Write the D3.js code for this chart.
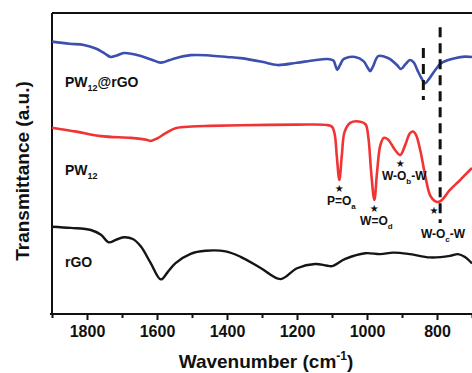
<!DOCTYPE html>
<html>
<head>
<meta charset="utf-8">
<script src="https://cdnjs.cloudflare.com/ajax/libs/d3/7.8.5/d3.min.js"></script>
<style>
  body { margin: 0; background: #fff; }
  text { font-family: "Liberation Sans", Arial, sans-serif; font-weight: bold; fill: #111; }
</style>
</head>
<body>
<script>
var outerWidth = 472, outerHeight = 373;

var margin = { top: 13, right: 0, bottom: 59, left: 52 };

var width = 420,                                  // plot goes a bit past the right edge
  height = outerHeight - margin.top - margin.bottom;

// spectra: [wavenumber (cm-1), transmittance (a.u.)]
var bluePW12rGO = [
  [1900, 90.5], [1850, 89.8], [1809, 89.4], [1775, 88.2], [1750, 86.6], [1732, 85.4],
  [1715, 85.9], [1695, 86.7], [1670, 86.4], [1646, 85.7], [1615, 84.5], [1589, 83.5],
  [1565, 84.3], [1547, 85.0], [1504, 86.0], [1450, 85.9], [1400, 85.4], [1361, 85.0],
  [1300, 83.8], [1256, 82.7], [1200, 83.5], [1150, 84.3], [1113, 84.7], [1096, 84.2],
  [1090, 82.5], [1085, 81.1], [1078, 82.5], [1068, 84.6], [1062, 85.0], [1034, 85.4],
  [1010, 84.0], [998, 81.8], [991, 80.7], [983, 82.2], [968, 85.7], [950, 85.5],
  [934, 84.7], [915, 82.8], [903, 81.4], [890, 83.0], [877, 84.4], [866, 83.5],
  [856, 81.0], [845, 78.5], [834, 76.7], [822, 78.2], [811, 80.1], [800, 81.8],
  [791, 83.1], [770, 84.3], [749, 85.0], [720, 85.5], [700, 85.4]
];

var redPW12 = [
  [1900, 61.9], [1830, 60.6], [1760, 59.1], [1675, 58.5], [1630, 57.9], [1618, 57.5],
  [1600, 58.3], [1575, 60.1], [1545, 61.8], [1500, 62.3], [1450, 62.5], [1361, 62.7],
  [1200, 62.9], [1115, 62.8], [1100, 62.2], [1092, 59.5], [1086, 52.0], [1079, 44.5],
  [1072, 52.5], [1064, 60.5], [1048, 63.5], [1019, 63.9], [1004, 63.0], [996, 58.5],
  [988, 47.0], [979, 37.9], [971, 47.5], [962, 56.0], [952, 58.5], [940, 58.0],
  [920, 54.5], [905, 52.8], [891, 56.1], [877, 60.1], [868, 60.6], [860, 59.5],
  [848, 54.5], [834, 46.2], [820, 39.5], [806, 37.5], [797, 37.2], [786, 37.9],
  [763, 41.2], [734, 44.5], [700, 48.5]
];

var blackRGO = [
  [1900, 29.0], [1846, 28.6], [1789, 27.9], [1760, 26.3], [1738, 23.8], [1718, 24.6],
  [1695, 25.5], [1669, 24.9], [1646, 22.4], [1618, 16.9], [1589, 11.5], [1569, 14.0],
  [1547, 16.9], [1504, 20.0], [1461, 21.0], [1404, 20.8], [1361, 19.0], [1304, 15.3],
  [1247, 11.6], [1200, 15.2], [1148, 16.6], [1116, 16.1], [1100, 15.9], [1062, 18.3],
  [1005, 20.2], [962, 19.9], [925, 20.4], [877, 19.9], [820, 18.8], [763, 19.3],
  [740, 19.9], [720, 18.9], [700, 16.8]
];

var seriesNames = ["PW12@rGO", "PW12", "rGO"];
var majorTicks = [1800, 1600, 1400, 1200, 1000, 800];
var minorTicks = [1900, 1700, 1500, 1300, 1100, 900, 700];

// band assignments on the PW12 curve
var bands = [
  { wn: 1079, main: "P=O", sub: "a" },
  { wn: 979, main: "W=O", sub: "d" },
  { wn: 905, main: "W-O", sub: "b", tail: "-W" },
  { wn: 797, main: "W-O", sub: "c", tail: "-W" }
];

// dashed marker lines: [wavenumber, top, bottom]
var markerLines = [[839, 88.4, 71.1], [791, 95.3, 30.2]];

var x = d3.scaleLinear().domain([1900, 700]).range([0, width]);
var y = d3.scaleLinear().domain([0, 100]).range([height, 0]);

var line = d3.line()
  .x(function (d) { return x(d[0]); })
  .y(function (d) { return y(d[1]); })
  .curve(d3.curveCatmullRom.alpha(0.5));

var svg = d3.select("body").append("svg")
  .attr("width", outerWidth)
  .attr("height", outerHeight);

var g = svg.append("g")
  .attr("transform", "translate(" + margin.left + "," + margin.top + ")");

// frame: left and top lines
g.append("line").attr("x1", 0).attr("x2", 0).attr("y1", 0).attr("y2", height)
  .style("stroke", "#111").style("stroke-width", 2);
g.append("line").attr("x1", 0).attr("x2", width).attr("y1", 0).attr("y2", 0)
  .style("stroke", "#111").style("stroke-width", 2);

// bottom axis with major and minor ticks
var xAxis = d3.axisBottom(x).tickValues(majorTicks).tickSize(6).tickPadding(5.5)
  .tickFormat(d3.format("d"));
var xMinor = d3.axisBottom(x).tickValues(minorTicks).tickSize(4).tickFormat("");

var ax = g.append("g").attr("transform", "translate(0," + height + ")").call(xAxis);
var axm = g.append("g").attr("transform", "translate(0," + height + ")").call(xMinor);
[ax, axm].forEach(function (a) {
  a.select(".domain").attr("d", "M-2,0H" + width).style("stroke", "#111").style("stroke-width", 2);
  a.selectAll(".tick line").style("stroke", "#111").style("stroke-width", 2);
});
ax.selectAll(".tick text")
  .style("font-size", "16px").style("font-family", "'Liberation Sans', Arial, sans-serif")
  .style("font-weight", "bold").style("fill", "#111");

// spectra
var curves = [
  { data: bluePW12rGO, color: "#3d4fae", w: 2.6 },
  { data: redPW12, color: "#f03434", w: 2.6 },
  { data: blackRGO, color: "#151515", w: 2.4 }
];
g.selectAll(".spec")
  .data(curves)
  .enter().append("path")
  .attr("class", "spec")
  .attr("d", function (d) { return line(d.data); })
  .style("fill", "none")
  .style("stroke", function (d) { return d.color; })
  .style("stroke-width", function (d) { return d.w; })
  .style("stroke-linejoin", "round");

// dashed markers
g.selectAll(".marker")
  .data(markerLines)
  .enter().append("line")
  .attr("class", "marker")
  .attr("x1", function (d) { return x(d[0]); })
  .attr("x2", function (d) { return x(d[0]); })
  .attr("y1", function (d) { return y(d[1]); })
  .attr("y2", function (d) { return y(d[2]); })
  .style("stroke", "#111")
  .style("stroke-width", 3)
  .style("stroke-dasharray", "10,6");

// series labels
var labelY = [74, 162, 254];
seriesNames.forEach(function (name, i) {
  var t = g.append("text").attr("x", 13).attr("y", labelY[i]).style("font-size", "14px");
  var m = name.match(/^(PW)(12)(.*)$/);
  if (m) {
    t.append("tspan").text(m[1]);
    t.append("tspan").text(m[2]).attr("dy", 4).style("font-size", "9px");
    if (m[3]) t.append("tspan").text(m[3]).attr("dy", -4);
  } else {
    t.text(name);
  }
});

// band annotations: star under the dip plus label
function redAt(wn) {
  var p = redPW12.find(function (d) { return d[0] === wn; });
  return p[1];
}
var starDx = [0, 0, 0, -4];
var labelDy = [25, 25, 25, 36];
var labelDx = [2, 2, 4, 5];
bands.forEach(function (b, i) {
  var bx = x(b.wn), by = y(redAt(b.wn));
  g.append("text").attr("x", bx + starDx[i]).attr("y", by + 12)
    .attr("text-anchor", "middle").style("font-size", "10px")
    .style("font-family", "'DejaVu Sans', sans-serif").text("\u2605");
  var t = g.append("text").attr("x", bx + labelDx[i]).attr("y", by + labelDy[i])
    .attr("text-anchor", "middle").style("font-size", "12px");
  t.append("tspan").text(b.main);
  t.append("tspan").text(b.sub).attr("dy", 4).style("font-size", "8px");
  if (b.tail) t.append("tspan").text(b.tail).attr("dy", -4);
});

// axis titles
var xt = svg.append("text")
  .attr("x", 266).attr("y", 368)
  .attr("text-anchor", "middle")
  .style("font-size", "19px");
xt.append("tspan").text("Wavenumber (cm");
xt.append("tspan").text("-1").attr("dy", -8).style("font-size", "12px");
xt.append("tspan").text(")").attr("dy", 8);

svg.append("text")
  .attr("transform", "rotate(-90)")
  .attr("x", -171).attr("y", 29)
  .attr("text-anchor", "middle")
  .style("font-size", "19px")
  .text("Transmittance (a.u.)");
</script>
</body>
</html>
